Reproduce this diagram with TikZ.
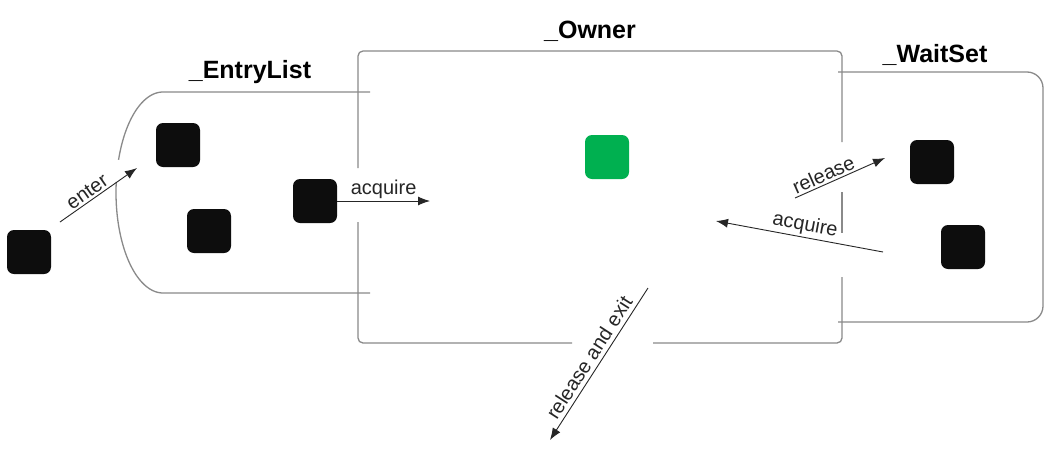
\documentclass[tikz,border=0pt]{standalone}
\usepackage{fontspec}
\setmainfont{Liberation Sans}
\usetikzlibrary{arrows.meta}
\definecolor{boxgray}{HTML}{8A8A8A}
\definecolor{sqblack}{HTML}{0D0D0D}
\definecolor{sqgreen}{HTML}{00B050}
\definecolor{arrgray}{HTML}{262626}
\begin{document}
\begin{tikzpicture}[x=1pt,y=-1pt,
  frame/.style={draw=boxgray,line width=1.3pt},
  token/.style={fill=sqblack,rounded corners=7pt,minimum size=44pt,inner sep=0pt},
  flow/.style={draw=arrgray,line width=0.9pt,-{Latex[length=12pt,width=9pt]}},
  rflow/.style={draw=arrgray,line width=0.9pt,{Latex[length=12pt,width=9pt]}-},
  lbl/.style={font=\fontsize{20}{22}\selectfont,text=arrgray,inner sep=2pt},
  title/.style={font=\bfseries\fontsize{25}{28}\selectfont,anchor=base}]
\useasboundingbox[fill=white] (0,0) rectangle (1058,453);

% _Owner box (with gaps)
\draw[frame,rounded corners=5pt] (358,168) -- (358,51) -- (842,51) -- (842,142);
\draw[frame] (842,192) -- (842,233);
\draw[frame,rounded corners=5pt] (842,277) -- (842,343) -- (653,343);
\draw[frame,rounded corners=5pt] (572,343) -- (358,343) -- (358,222);

% _EntryList outline
\draw[frame] (370,92) -- plot[domain=0:71,samples=30,smooth] ({163-47*sin(\x)},{192.5-100.5*cos(\x)});
\draw[frame] plot[domain=84:180,samples=30,smooth] ({163-47*sin(\x)},{192.5-100.5*cos(\x)}) -- (370,293);

% _WaitSet outline
\draw[frame,rounded corners=16pt] (838,72) -- (1043,72) -- (1043,322) -- (838,322);

% titles
\node[title] (tEntry) at (250,78) {\_EntryList};
\node[title] (tOwner) at (590,38) {\_Owner};
\node[title] (tWait) at (935,62) {\_WaitSet};

% tokens
\node[token] (t0) at (29,252) {};
\node[token] (e1) at (178,145) {};
\node[token] (e2) at (209,231) {};
\node[token] (e3) at (315,201) {};
\node[token,fill=sqgreen] (own) at (607,157) {};
\node[token] (w1) at (932,162) {};
\node[token] (w2) at (963,247) {};

% connector ends
\coordinate (enterS) at (60,222);
\coordinate (enterE) at (137,168);
\coordinate (acqE) at (430,201);
\coordinate (relS) at (795,198);
\coordinate (relE) at (885,158);
\coordinate (wacqE) at (716,221);
\coordinate (wacqS) at (883,252);
\coordinate (exitE) at (550,440);
\coordinate (exitS) at (648,288);

% arrows
\draw[flow] (enterS) -- node[lbl,sloped,above,pos=0.42]{enter} (enterE);
\draw[flow] (e3.east) -- node[lbl,above]{acquire} (acqE);
\draw[flow] (relS) -- node[lbl,sloped,above,pos=0.36]{release} (relE);
\draw[rflow] (wacqE) -- node[lbl,sloped,above,pos=0.52]{acquire} (wacqS);
\draw[rflow] (exitE) -- node[lbl,sloped,above=2pt,pos=0.5]{release and exit} (exitS);
\end{tikzpicture}
\end{document}
